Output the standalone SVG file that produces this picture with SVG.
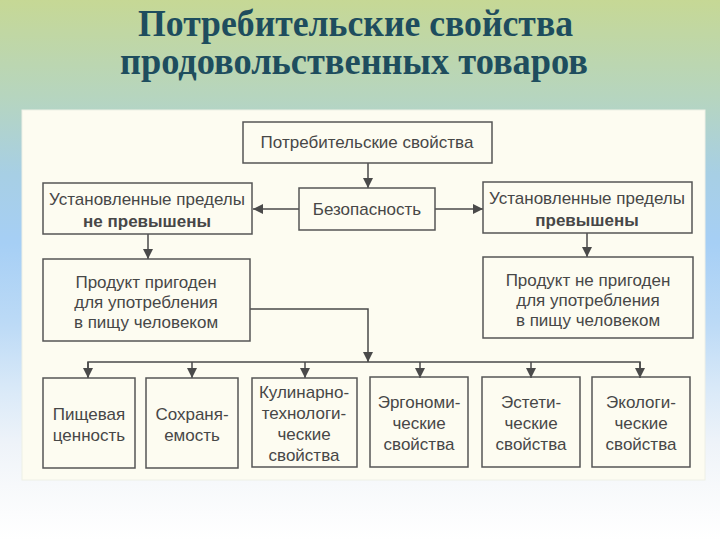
<svg xmlns="http://www.w3.org/2000/svg" width="720" height="540" viewBox="0 0 720 540">
  <defs>
    <linearGradient id="bg" x1="0" y1="0" x2="0" y2="1">
      <stop offset="0" stop-color="#c6d895"/>
      <stop offset="0.18" stop-color="#b6d5bf"/>
      <stop offset="0.32" stop-color="#a7cfe4"/>
      <stop offset="0.45" stop-color="#a6cff5"/>
      <stop offset="0.6" stop-color="#bcdaf6"/>
      <stop offset="0.72" stop-color="#d9e9f8"/>
      <stop offset="0.82" stop-color="#eef3f9"/>
      <stop offset="0.9" stop-color="#f7f9fb"/>
      <stop offset="1" stop-color="#ffffff"/>
    </linearGradient>
    <marker id="arr" markerWidth="10" markerHeight="10" refX="10" refY="5" orient="auto" markerUnits="userSpaceOnUse">
      <path d="M0,0 L10,5 L0,10 Z" fill="#4a4a4a"/>
    </marker>
    <style>
      .box { fill: none; stroke: #555; stroke-width: 1.5; }
      .t { font-family: "Liberation Sans", Arial, sans-serif; font-size: 17px; fill: #474747; text-anchor: middle; }
      .b { font-weight: bold; }
      .title { font-family: "Liberation Serif", "Times New Roman", serif; font-weight: bold; font-size: 37px; fill: #1e4d5e; }
      .c { fill: none; stroke: #4a4a4a; stroke-width: 1.5; }
    </style>
  </defs>

  <rect x="0" y="0" width="720" height="540" fill="url(#bg)"/>
  <rect x="22" y="110" width="683" height="370" fill="#fdfcf1" stroke="#eef0e6" stroke-width="1"/>

  <g id="title">
    <text class="title" x="138" y="36" textLength="435" lengthAdjust="spacingAndGlyphs">Потребительские свойства</text>
    <text class="title" x="120" y="74" textLength="468" lengthAdjust="spacingAndGlyphs">продовольственных товаров</text>
  </g>

  <g id="connectors">
    <line class="c" x1="368" y1="163" x2="368" y2="188" marker-end="url(#arr)"/>
    <line class="c" x1="299" y1="209" x2="253" y2="209" marker-end="url(#arr)"/>
    <line class="c" x1="435" y1="209" x2="483" y2="209" marker-end="url(#arr)"/>
    <line class="c" x1="148" y1="234" x2="148" y2="259" marker-end="url(#arr)"/>
    <line class="c" x1="587" y1="233" x2="587" y2="257" marker-end="url(#arr)"/>
    <path class="c" d="M250,309 H368 V362" marker-end="url(#arr)"/>
    <path class="c" d="M88,378 V362 H640 V378"/>
    <line class="c" x1="88" y1="362" x2="88" y2="378" marker-end="url(#arr)"/>
    <line class="c" x1="192" y1="362" x2="192" y2="378" marker-end="url(#arr)"/>
    <line class="c" x1="305" y1="362" x2="305" y2="378" marker-end="url(#arr)"/>
    <line class="c" x1="420" y1="362" x2="420" y2="378" marker-end="url(#arr)"/>
    <line class="c" x1="531" y1="362" x2="531" y2="378" marker-end="url(#arr)"/>
    <line class="c" x1="640" y1="362" x2="640" y2="378" marker-end="url(#arr)"/>
  </g>

  <g id="n-props">
    <rect class="box" x="243" y="122" width="249" height="41"/>
    <text class="t" x="367" y="148">Потребительские свойства</text>
  </g>
  <g id="n-safety">
    <rect class="box" x="299" y="188" width="136" height="42"/>
    <text class="t" x="367" y="215">Безопасность</text>
  </g>
  <g id="n-notexceeded">
    <rect class="box" x="43" y="183" width="209" height="51"/>
    <text class="t" x="147" y="205">Установленные пределы</text>
    <text class="t b" x="147" y="227">не превышены</text>
  </g>
  <g id="n-exceeded">
    <rect class="box" x="483" y="182" width="209" height="51"/>
    <text class="t" x="587" y="204">Установленные пределы</text>
    <text class="t b" x="587" y="226">превышены</text>
  </g>
  <g id="n-fit">
    <rect class="box" x="43" y="259" width="207" height="82"/>
    <text class="t" x="146" y="288">Продукт пригоден</text>
    <text class="t" x="146" y="308">для употребления</text>
    <text class="t" x="146" y="328">в пищу человеком</text>
  </g>
  <g id="n-unfit">
    <rect class="box" x="483" y="257" width="210" height="81"/>
    <text class="t" x="588" y="286">Продукт не пригоден</text>
    <text class="t" x="588" y="306">для употребления</text>
    <text class="t" x="588" y="326">в пищу человеком</text>
  </g>
  <g id="n-nutrition">
    <rect class="box" x="43" y="378" width="92" height="90"/>
    <text class="t" x="89" y="420">Пищевая</text>
    <text class="t" x="89" y="441">ценность</text>
  </g>
  <g id="n-storage">
    <rect class="box" x="146" y="378" width="92" height="90"/>
    <text class="t" x="192" y="420">Сохраня-</text>
    <text class="t" x="192" y="441">емость</text>
  </g>
  <g id="n-culinary">
    <rect class="box" x="252" y="378" width="105" height="89"/>
    <text class="t" x="304" y="398">Кулинарно-</text>
    <text class="t" x="304" y="419">технологи-</text>
    <text class="t" x="304" y="440">ческие</text>
    <text class="t" x="304" y="461">свойства</text>
  </g>
  <g id="n-ergonomic">
    <rect class="box" x="370" y="377" width="98" height="90"/>
    <text class="t" x="419" y="408">Эргономи-</text>
    <text class="t" x="419" y="429">ческие</text>
    <text class="t" x="419" y="450">свойства</text>
  </g>
  <g id="n-aesthetic">
    <rect class="box" x="482" y="377" width="98" height="90"/>
    <text class="t" x="531" y="408">Эстети-</text>
    <text class="t" x="531" y="429">ческие</text>
    <text class="t" x="531" y="450">свойства</text>
  </g>
  <g id="n-ecological">
    <rect class="box" x="592" y="377" width="98" height="90"/>
    <text class="t" x="641" y="408">Экологи-</text>
    <text class="t" x="641" y="429">ческие</text>
    <text class="t" x="641" y="450">свойства</text>
  </g>
</svg>
